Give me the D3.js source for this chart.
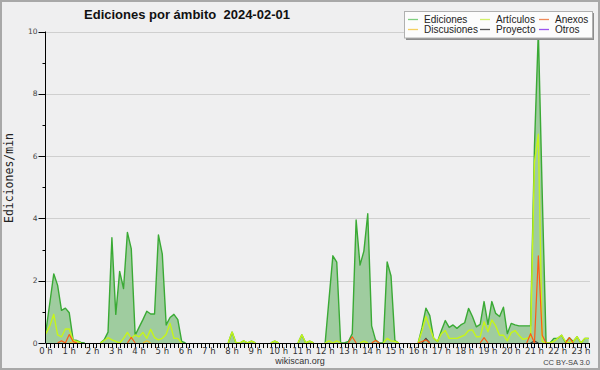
<!DOCTYPE html>
<html><head><meta charset="utf-8">
<script src="https://cdn.jsdelivr.net/npm/d3@7"></script>
<style>html,body{margin:0;padding:0;background:#efeff0;}svg{display:block;}</style>
</head><body>
<svg id="c" width="600" height="370"></svg>
<script>
// 10-minute slots from 00:00
const ediciones = [0.4,1.3,2.22,1.85,1.05,1.12,0.97,0.1,0.08,0.02,0,0,0,0,0,0.1,0.35,3.38,0.92,2.3,
1.75,3.55,3.02,0.25,0.5,0.75,1.02,0.93,0.93,3.47,2.85,0.58,0.82,0.92,0.75,0.05,0,0,0,0,
0,0,0,0,0,0,0,0,0.35,0,0,0.07,0,0.06,0,0,0,0,0,0.06,
0,0,0,0,0,0,0.26,0,0.06,0,0,0,0,1.4,2.8,2.6,0,0,0.05,0.3,
3.95,2.5,2.95,4.15,0.55,0.1,0,0,2.6,2.15,0.08,0,0,0,0,0,0,0.5,1.12,0.88,
0.15,0.05,0.4,0.72,0.5,0.58,0.47,0.58,0.65,1.11,0.85,0.52,0.6,1.33,0.6,1.33,0.95,0.85,1.15,0.3,
0.63,0.58,0.55,0.55,0.55,0.55,6.3,10.0,4.8,0,0,0.15,0.15,0.25,0.02,0.17,0.05,0.2,0,0.15,0.15];
const articulos = [0.3,0.55,0.92,0.26,0.2,0.45,0.45,0.08,0.05,0,0,0,0,0,0,0.08,0.17,0.1,0.05,0,
0.15,0.34,0.15,0.26,0.2,0.34,0.15,0.44,0.17,0.1,0.15,0.28,0.63,0.15,0.15,0,0,0,0,0,
0,0,0,0,0,0,0,0,0.35,0,0,0.07,0,0.06,0,0,0,0,0,0.06,
0,0,0,0,0,0,0.26,0,0.06,0,0,0,0,0.07,0,0.07,0,0,0,0,
0,0,0.06,0,0,0,0,0,0.15,0.07,0.05,0,0,0,0,0,0,0.4,0.85,0.5,
0.15,0.05,0.3,0.4,0.15,0.15,0.15,0.2,0.25,0.4,0.42,0.2,0.2,0.68,0.36,0.74,0.55,0.25,0.25,0.07,
0.33,0.4,0.25,0.12,0.15,0.2,5.8,6.7,0.05,0,0,0.05,0.15,0.25,0.05,0,0.05,0.2,0,0.15,0.15];
const anexos = (() => { const a = new Array(141).fill(0);
  [[4,0.07],[6,0.27],[7,0.05],[22,0.18],[79,0.2],[85,0.08],[97,0.05],[98,0.1],[113,0.17],[125,0.3],[127,2.8],[128,0.25],[135,0.17]]
  .forEach(([i,v]) => a[i] = v); return a; })();
const discusiones = (() => { const a = new Array(141).fill(0);
  [[7,0.04],[26,0.07]].forEach(([i,v]) => a[i] = v); return a; })();
const proyecto = (() => { const a = new Array(141).fill(0);
  [[98,0.15],[126,0.06]].forEach(([i,v]) => a[i] = v); return a; })();
const otros = new Array(141).fill(0);

const seriesNames = ["Ediciones","Artículos","Anexos","Discusiones","Proyecto","Otros"];
const hourLabels = d3.range(0,24).map(h => h + " h");
const yTicks = [0,2,4,6,8,10];
const title = "Ediciones por ámbito  2024-02-01";

(function(){
const svg = d3.select("#c");
const W = 600, H = 370;
const pL = 45.5, pR = 590, pT = 31.5, pB = 343;

svg.append("rect").attr("x",1).attr("y",1).attr("width",W-2).attr("height",H-2)
  .attr("fill","#efeff0").attr("stroke","#a8a8a8").attr("stroke-width",2);

const x = d3.scaleLinear().domain([0,1440]).range([46, 46 + 24*23.26]);
const y = d3.scaleLinear().domain([0,10]).range([pB, pT]);

svg.append("g").selectAll("line").data(yTicks.filter(d=>d>0)).join("line")
  .attr("x1",pL).attr("x2",pR).attr("y1",d=>Math.round(y(d))+0.5).attr("y2",d=>Math.round(y(d))+0.5)
  .attr("stroke","#cfcfcf").attr("stroke-width",1);

svg.append("clipPath").attr("id","pc").append("rect")
  .attr("x",pL).attr("y",0).attr("width",pR-pL).attr("height",pB+1);

const plot = svg.append("g").attr("clip-path","url(#pc)");
const px = (d,i) => x(i*10);
const defd = arr => (d,i) => d>0 || (arr[i-1]||0)>0 || (arr[i+1]||0)>0;

plot.append("path").datum(ediciones)
  .attr("d", d3.area().x(px).y0(pB).y1(d=>y(d)).defined(defd(ediciones)))
  .attr("fill","#9fcc9f").attr("stroke","none");

const lineSeries = [
  [ediciones,"#3aaa35",1.4],
  [articulos,"#c6f51a",1.4],
  [discusiones,"#f2c12e",1.2],
  [proyecto,"#444444",1.2],
  [anexos,"#ff5a14",1.2],
  [otros,"#9b4dea",1.2]
];
lineSeries.forEach(([arr,col,w]) => {
  plot.append("path").datum(arr)
    .attr("d", d3.line().x(px).y(d=>y(d)).defined(defd(arr)))
    .attr("fill","none").attr("stroke",col).attr("stroke-width",w).attr("stroke-linejoin","round");
});

const ya = svg.append("g");
ya.append("line").attr("x1",pL).attr("x2",pL).attr("y1",pT).attr("y2",pB).attr("stroke","#000");
ya.selectAll("line.mj").data(yTicks).join("line").attr("class","mj")
  .attr("x1",pL-7).attr("x2",pL).attr("y1",d=>Math.round(y(d))+0.5).attr("y2",d=>Math.round(y(d))+0.5).attr("stroke","#000");
ya.selectAll("line.mn").data([1,3,5,7,9]).join("line").attr("class","mn")
  .attr("x1",pL-3).attr("x2",pL).attr("y1",d=>Math.round(y(d))+0.5).attr("y2",d=>Math.round(y(d))+0.5).attr("stroke","#000");
ya.selectAll("text").data(yTicks).join("text")
  .attr("x",pL-8).attr("y",d=>y(d)+2.5).attr("text-anchor","end")
  .attr("font-family","DejaVu Sans").attr("font-size",7.5).attr("fill","#444").text(d=>d);

const xa = svg.append("g");
const minor = d3.range(0,1440,10).filter(m => x(m) <= pR);
xa.selectAll("line.t").data(minor).join("line").attr("class","t")
  .attr("x1",d=>Math.round(x(d))+0.5).attr("x2",d=>Math.round(x(d))+0.5).attr("y1",pB).attr("y2",pB+5)
  .attr("stroke","#000");
xa.append("line").attr("x1",pL).attr("x2",pR).attr("y1",pB+0.5).attr("y2",pB+0.5).attr("stroke","#000").attr("stroke-width",1.2);
xa.selectAll("text").data(hourLabels).join("text")
  .attr("x",(d,i)=>x(i*60)).attr("y",354).attr("text-anchor","middle")
  .attr("font-family","DejaVu Sans").attr("font-size",8.5).attr("fill","#333").text(d=>d);

svg.append("text").attr("transform","translate(13,178) rotate(-90)").attr("text-anchor","middle")
  .attr("font-family","DejaVu Sans Mono").attr("font-size",11.5).attr("fill","#222").text("Ediciones/min");

svg.append("text").attr("x",187).attr("y",18.5).attr("text-anchor","middle")
  .attr("font-family","Liberation Sans").attr("font-weight","bold").attr("font-size",13).attr("fill","#111")
  .style("white-space","pre").text(title);

svg.append("text").attr("x",300).attr("y",364).attr("text-anchor","middle")
  .attr("font-family","Liberation Sans").attr("font-size",9).attr("fill","#333").text("wikiscan.org");
svg.append("text").attr("x",590).attr("y",365).attr("text-anchor","end")
  .attr("font-family","Liberation Sans").attr("font-size",7.5).attr("fill","#444").text("CC BY-SA 3.0");

const lg = svg.append("g");
lg.append("rect").attr("x",406).attr("y",13).attr("width",188).attr("height",27).attr("fill","#8c8c8c");
lg.append("rect").attr("x",404.5).attr("y",11.5).attr("width",188).attr("height",26.5).attr("fill","#fcfcfc").attr("stroke","#b0b0b0");
const legendColors = ["#7fcf7f","#d2f06a","#ee8a5a","#f4d060","#555555","#9b55ee"];
const pos = [[408,19],[480,19],[539,19],[408,29],[480,29],[539,29]];
seriesNames.forEach((name,k) => {
  const [lx,ly] = pos[k];
  lg.append("line").attr("x1",lx).attr("x2",lx+10).attr("y1",ly+0.5).attr("y2",ly+0.5)
    .attr("stroke",legendColors[k]).attr("stroke-width",1.3);
  lg.append("text").attr("x",lx+16).attr("y",ly+3.5)
    .attr("font-family","Liberation Sans").attr("font-size",10).attr("fill","#222").text(name);
});
})();
</script>
</body></html>
